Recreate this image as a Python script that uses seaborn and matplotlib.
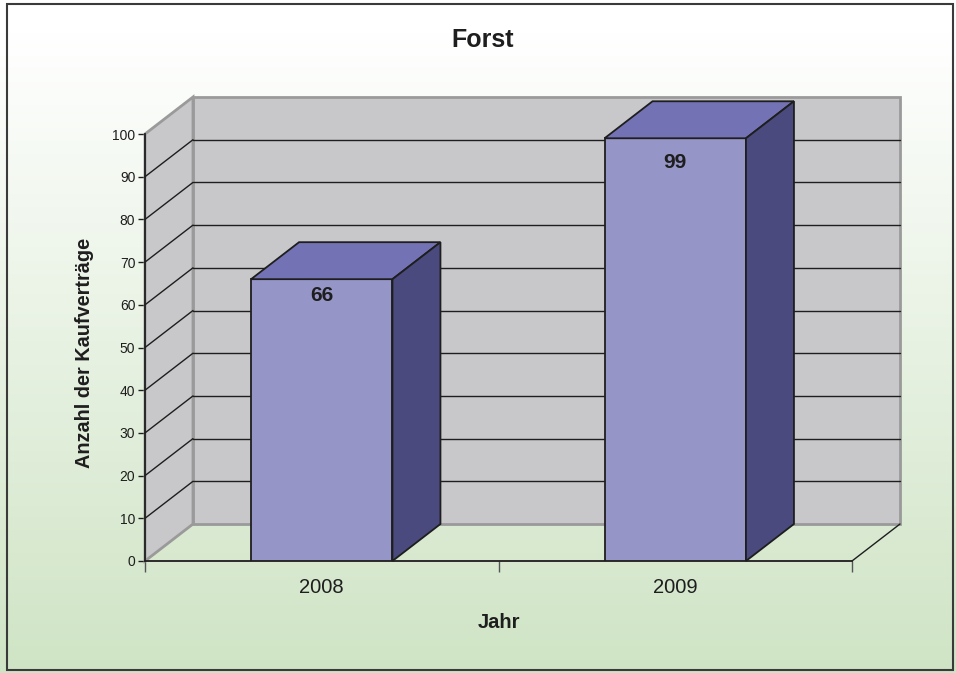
import numpy as np
import pandas as pd
import matplotlib
matplotlib.use("Agg")
import matplotlib.pyplot as plt
import seaborn as sns
from matplotlib.patches import Polygon, Rectangle

# Data
years = ["2008", "2009"]
counts = [66, 99]
y_ticks = list(range(0, 101, 10))

title = "Forst"
x_label = "Jahr"
y_label = "Anzahl der Kaufverträge"

# Colours
FRONT = "#9595c8"
TOP = "#7272b4"
SIDE = "#4a4a7e"
WALL = "#c8c8ca"
WALL_EDGE = "#9a9a9a"
INK = "#1e1e1e"

sns.set_theme(style="white")
plt.rcParams["font.family"] = ["Liberation Sans", "DejaVu Sans"]

W, H = 956, 673
fig = plt.figure(figsize=(W / 100, H / 100), dpi=100)

# Soft white-to-green background
bg = fig.add_axes([0, 0, 1, 1], zorder=-10)
t = np.clip((np.linspace(0, 1, 400) - 0.05) / 0.95, 0, 1)[:, None, None]
top_c = np.array([1.0, 1.0, 1.0])[None, None, :]
bot_c = np.array([0.812, 0.894, 0.772])[None, None, :]
bg.imshow(top_c + (bot_c - top_c) * t, aspect="auto", extent=[0, 1, 0, 1])
bg.set_axis_off()

# Outer frame
fig.patches.append(Rectangle((7 / W, (H - 670) / H), (953 - 7) / W, (670 - 4) / H,
                             transform=fig.transFigure, fill=False,
                             ec="#3a3a3a", lw=1.5))

# Front plane of the plot
ax = fig.add_axes([145 / W, (H - 561) / H, (852 - 145) / W, (561 - 134) / H])
ax.set_facecolor("none")

df = pd.DataFrame({"Jahr": years, "Anzahl": counts})
sns.barplot(data=df, x="Jahr", y="Anzahl", color=FRONT, width=0.4,
            saturation=1, edgecolor=INK, linewidth=1.3, ax=ax, zorder=3)
ax.set_xlim(-0.5, 1.5)
ax.set_ylim(0, 100)

# Depth offset (pixels) converted to data units
x0, y0 = ax.transData.transform((0, 0))
DX, DY = ax.transData.inverted().transform((x0 + 48, y0 + 37))

# Back wall and left side wall
ax.add_patch(Rectangle((-0.5 + DX, DY), 2.0, 100, fc=WALL, ec=WALL_EDGE,
                       lw=2, zorder=0.5, clip_on=False))
ax.add_patch(Polygon([(-0.5, 0), (-0.5 + DX, DY), (-0.5 + DX, 100 + DY), (-0.5, 100)],
                     closed=True, fc=WALL, ec=WALL_EDGE, lw=2, zorder=0.6,
                     clip_on=False))

# Gridlines on both walls
for v in y_ticks[1:-1]:
    ax.plot([-0.5 + DX, 1.5 + DX], [v + DY, v + DY], color=INK, lw=1,
            zorder=1, clip_on=False)
    ax.plot([-0.5, -0.5 + DX], [v, v + DY], color=INK, lw=1,
            zorder=1, clip_on=False)

# Right edge of the floor
ax.plot([1.5, 1.5 + DX], [0, DY], color=INK, lw=1, zorder=1, clip_on=False)

# Top and side faces of each bar, plus value labels
for patch in list(ax.patches):
    if patch.get_facecolor()[:3] != matplotlib.colors.to_rgb(FRONT):
        continue
    x = patch.get_x()
    w = patch.get_width()
    h = patch.get_height()
    ax.add_patch(Polygon([(x, h), (x + w, h), (x + w + DX, h + DY), (x + DX, h + DY)],
                         closed=True, fc=TOP, ec=INK, lw=1.3, zorder=3,
                         clip_on=False))
    ax.add_patch(Polygon([(x + w, 0), (x + w + DX, DY), (x + w + DX, h + DY), (x + w, h)],
                         closed=True, fc=SIDE, ec=INK, lw=1.3, zorder=3,
                         clip_on=False))
    ax.text(x + w / 2, h * 0.942, f"{h:.0f}", ha="center", va="center",
            fontsize=15, fontweight="bold", color=INK, zorder=5)

# Axes, ticks, spines
ax.set_yticks(y_ticks)
ax.tick_params(axis="y", left=True, length=5, width=1, color=INK,
               labelsize=10, labelcolor=INK, pad=2, direction="out")
ax.set_xticks([0, 1])
ax.set_xticklabels(years)
ax.tick_params(axis="x", which="major", length=0, labelsize=14.5,
               labelcolor=INK, pad=12)
ax.set_xticks([-0.5, 0.5, 1.5], minor=True)
ax.tick_params(axis="x", which="minor", bottom=True, length=8, width=1,
               color="#555555", direction="out")
for side in ("top", "right"):
    ax.spines[side].set_visible(False)
for side in ("left", "bottom"):
    ax.spines[side].set_color(INK)
    ax.spines[side].set_linewidth(1.3)
ax.set_xlabel("")
ax.set_ylabel("")

# Titles and axis labels
fig.text(483 / W, 1 - 40 / H, title, ha="center", va="center",
         fontsize=18, fontweight="bold", color=INK)
fig.text(499 / W, 1 - 622 / H, x_label, ha="center", va="center",
         fontsize=14.5, fontweight="bold", color=INK)
fig.text(84 / W, 1 - 353 / H, y_label, ha="center", va="center",
         rotation=90, fontsize=14.3, fontweight="bold", color=INK)

fig.savefig("out.png", dpi=100)
